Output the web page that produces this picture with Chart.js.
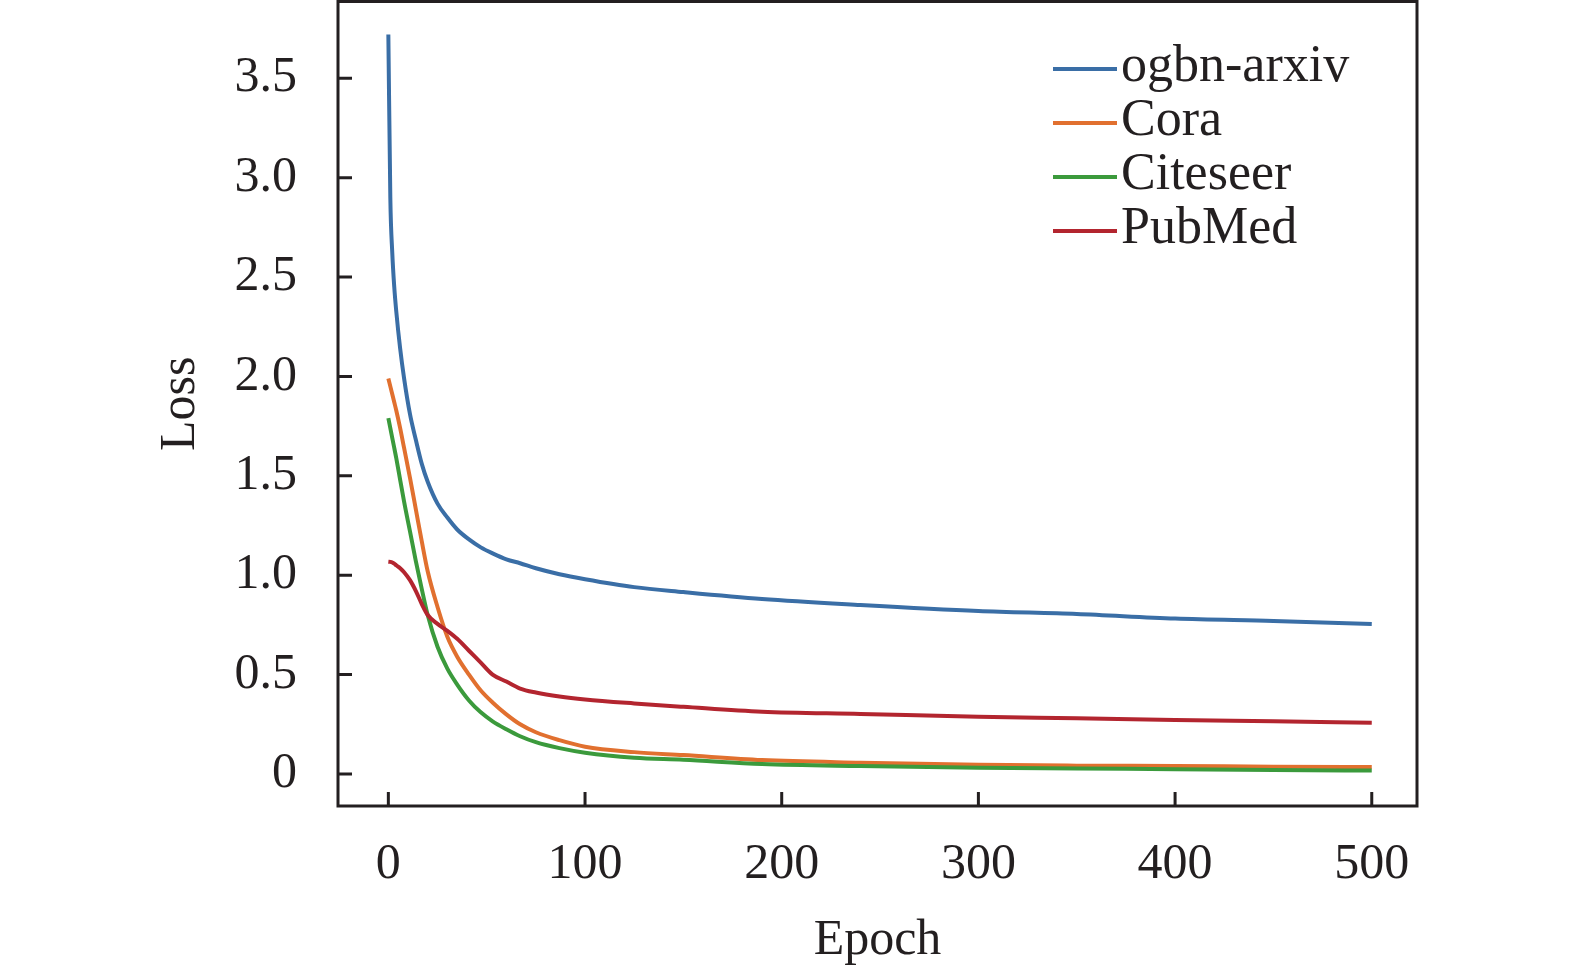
<!DOCTYPE html>
<html>
<head>
<meta charset="utf-8">
<title>Loss curves</title>
<script src="https://cdn.jsdelivr.net/npm/chart.js@4.4.1/dist/chart.umd.min.js"></script>
<style>
  html, body { margin: 0; padding: 0; background: #fff; }
  canvas { display: block; }
</style>
</head>
<body>
<canvas id="lossChart" width="1575" height="971"></canvas>
<script>
const epochs = [0, 1, 2, 3, 4, 6, 8, 11, 14, 17, 20, 25, 30, 35, 41, 47, 53, 60, 67, 75, 87, 100, 125, 150, 190, 240, 300, 350, 400, 450, 500];

const arxivLoss = [3.72, 2.90, 2.62, 2.45, 2.33, 2.14, 1.99, 1.81, 1.68, 1.56, 1.47, 1.36, 1.29, 1.23, 1.18, 1.14, 1.11, 1.08, 1.06, 1.035, 1.005, 0.98, 0.94, 0.915, 0.88, 0.85, 0.82, 0.805, 0.782, 0.770, 0.755];
const coraLoss = [1.99, 1.95, 1.91, 1.87, 1.83, 1.74, 1.64, 1.49, 1.33, 1.17, 1.02, 0.84, 0.69, 0.59, 0.50, 0.42, 0.36, 0.30, 0.25, 0.21, 0.17, 0.137, 0.11, 0.095, 0.07, 0.057, 0.046, 0.042, 0.040, 0.037, 0.035];
const citeseerLoss = [1.79, 1.74, 1.69, 1.64, 1.59, 1.48, 1.37, 1.22, 1.07, 0.93, 0.80, 0.64, 0.53, 0.45, 0.37, 0.31, 0.265, 0.225, 0.19, 0.16, 0.13, 0.107, 0.082, 0.072, 0.05, 0.04, 0.032, 0.028, 0.024, 0.020, 0.017];
const pubmedLoss = [1.068, 1.067, 1.064, 1.058, 1.05, 1.035, 1.015, 0.975, 0.92, 0.855, 0.80, 0.755, 0.72, 0.68, 0.62, 0.56, 0.50, 0.465, 0.43, 0.41, 0.39, 0.375, 0.355, 0.338, 0.313, 0.302, 0.288, 0.28, 0.271, 0.265, 0.258];

const seriesNames = ['ogbn-arxiv', 'Cora', 'Citeseer', 'PubMed'];
const seriesLoss = [arxivLoss, coraLoss, citeseerLoss, pubmedLoss];
const seriesColors = ['#3a6ea6', '#e1702f', '#3b9a3c', '#b3252f'];

const xTicks = [0, 100, 200, 300, 400, 500];
const yTicks = [0, 0.5, 1.0, 1.5, 2.0, 2.5, 3.0, 3.5];

const FONT = '"Liberation Serif", "Times New Roman", serif';
const INK = '#231f20';

// box around the plot plus short inward tick marks on left and bottom
const frameAndTicks = {
  id: 'frameAndTicks',
  afterDraw(chart) {
    const { ctx, chartArea: a, scales: { x, y } } = chart;
    ctx.save();
    ctx.strokeStyle = INK;
    ctx.lineWidth = 3;
    ctx.strokeRect(a.left, a.top, a.right - a.left, a.bottom - a.top);
    ctx.beginPath();
    x.ticks.forEach(t => {
      const px = x.getPixelForValue(t.value);
      ctx.moveTo(px, a.bottom);
      ctx.lineTo(px, a.bottom - 14);
    });
    y.ticks.forEach(t => {
      const py = y.getPixelForValue(t.value);
      ctx.moveTo(a.left, py);
      ctx.lineTo(a.left + 14, py);
    });
    ctx.stroke();
    ctx.restore();
  }
};

// legend drawn inside the plot, top right
const insideLegend = {
  id: 'insideLegend',
  afterDraw(chart, args, opts) {
    const ctx = chart.ctx;
    ctx.save();
    ctx.font = opts.fontSize + 'px ' + FONT;
    ctx.textBaseline = 'alphabetic';
    chart.data.datasets.forEach((ds, i) => {
      const y = opts.top + i * opts.rowHeight;
      ctx.strokeStyle = ds.borderColor;
      ctx.lineWidth = 4;
      ctx.beginPath();
      ctx.moveTo(opts.left, y);
      ctx.lineTo(opts.left + opts.lineLength, y);
      ctx.stroke();
      ctx.fillStyle = INK;
      ctx.fillText(ds.label, opts.left + opts.lineLength + opts.gap, y + opts.baselineShift);
    });
    ctx.restore();
  }
};

const datasets = seriesNames.map((name, i) => ({
  label: name,
  data: epochs.map((e, j) => ({ x: e, y: seriesLoss[i][j] })),
  borderColor: seriesColors[i],
  borderWidth: 4,
  pointRadius: 0,
  fill: false,
  cubicInterpolationMode: 'monotone',
  order: seriesNames.length - i
}));

const ctx = document.getElementById('lossChart').getContext('2d');
const lossChart = new Chart(ctx, {
  type: 'line',
  data: { datasets: datasets },
  options: {
    responsive: false,
    animation: false,
    devicePixelRatio: 1,
    layout: { padding: { top: 1.5, right: 158, left: 0, bottom: 0 } },
    plugins: {
      legend: { display: false },
      tooltip: { enabled: false },
      insideLegend: { left: 1053, top: 69, rowHeight: 54, lineLength: 64, gap: 4, fontSize: 52, baselineShift: 12 }
    },
    scales: {
      x: {
        type: 'linear',
        min: -25.6,
        max: 523,
        afterFit: s => { s.height = 165; s.paddingLeft = 0; s.paddingRight = 0; },
        afterBuildTicks: s => { s.ticks = xTicks.map(v => ({ value: v })); },
        grid: { display: false, drawTicks: false },
        border: { display: false },
        ticks: {
          color: INK,
          padding: 29,
          font: { family: FONT, size: 50 },
          callback: v => String(v)
        },
        title: {
          display: true,
          text: 'Epoch',
          color: INK,
          font: { family: FONT, size: 50 },
          padding: { top: 0, bottom: 0 }
        }
      },
      y: {
        type: 'linear',
        min: -0.161,
        max: 3.886,
        afterFit: s => { s.width = 338; s.paddingTop = 0; s.paddingBottom = 0; },
        afterBuildTicks: s => { s.ticks = yTicks.map(v => ({ value: v })); },
        grid: { display: false, drawTicks: false },
        border: { display: false },
        ticks: {
          color: INK,
          padding: 41,
          font: { family: FONT, size: 50 },
          callback: v => (v === 0 ? '0' : v.toFixed(1))
        },
        title: {
          display: true,
          text: 'Loss',
          color: INK,
          font: { family: FONT, size: 50 },
          padding: { top: 151, bottom: 0 }
        }
      }
    }
  },
  plugins: [frameAndTicks, insideLegend]
});
</script>
</body>
</html>
